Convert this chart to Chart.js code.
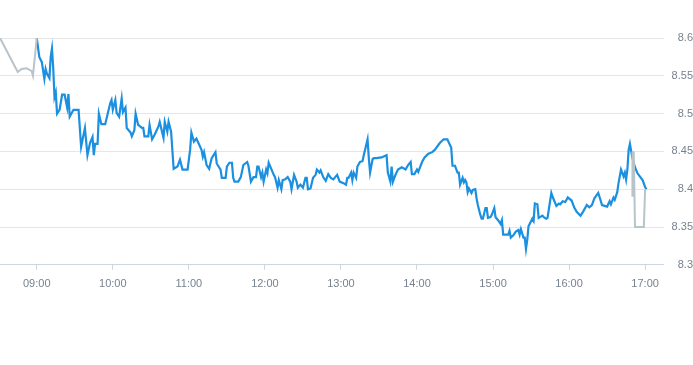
<!DOCTYPE html>
<html>
<head>
<meta charset="utf-8">
<script src="https://cdn.jsdelivr.net/npm/chart.js@4.4.0/dist/chart.umd.min.js"></script>
<style>
  html, body { margin: 0; padding: 0; background: #fff; }
  #wrap { width: 693px; height: 365px; position: relative; }
</style>
</head>
<body>
<div id="wrap"><canvas id="myChart"></canvas></div>
<script>
// before the session opens (grey)
var preTimes = ['08:31', '08:45', '08:48', '08:52', '08:56', '08:57', '09:00'];
var preValues = [8.600, 8.555, 8.559, 8.560, 8.556, 8.550, 8.600];

// trading session (blue)
var mainTimes = [
    '09:00', '09:02', '09:04', '09:06', '09:07', '09:08', '09:10', '09:11', '09:12', '09:13',
    '09:14', '09:15', '09:16', '09:18', '09:20', '09:22', '09:24', '09:25', '09:26', '09:29',
    '09:33', '09:35', '09:38', '09:40', '09:42', '09:44', '09:45', '09:46', '09:48', '09:49',
    '09:51', '09:54', '09:58', '09:59', '10:00', '10:02', '10:03', '10:05', '10:07', '10:08',
    '10:10', '10:11', '10:14', '10:15', '10:17', '10:18', '10:20', '10:23', '10:24', '10:25',
    '10:28', '10:29', '10:31', '10:33', '10:36', '10:37', '10:40', '10:41', '10:43', '10:44',
    '10:46', '10:48', '10:51', '10:53', '10:55', '10:59', '11:01', '11:02', '11:04', '11:06',
    '11:07', '11:10', '11:11', '11:12', '11:14', '11:16', '11:18', '11:21', '11:22', '11:25',
    '11:26', '11:29', '11:30', '11:32', '11:34', '11:35', '11:36', '11:39', '11:41', '11:43',
    '11:46', '11:47', '11:49', '11:51', '11:53', '11:54', '11:55', '11:57', '11:58', '11:59',
    '12:01', '12:02', '12:03', '12:06', '12:07', '12:08', '12:10', '12:11', '12:13', '12:14',
    '12:16', '12:18', '12:20', '12:21', '12:23', '12:25', '12:26', '12:28', '12:30', '12:32',
    '12:33', '12:34', '12:36', '12:38', '12:40', '12:41', '12:43', '12:44', '12:46', '12:48',
    '12:50', '12:52', '12:54', '12:57', '12:59', '13:02', '13:04', '13:05', '13:06', '13:08',
    '13:09', '13:10', '13:12', '13:13', '13:15', '13:17', '13:18', '13:19', '13:21', '13:22',
    '13:23', '13:25', '13:26', '13:28', '13:32', '13:36', '13:37', '13:39', '13:40', '13:41',
    '13:43', '13:45', '13:48', '13:51', '13:53', '13:55', '13:56', '13:58', '14:00', '14:01',
    '14:04', '14:06', '14:09', '14:12', '14:14', '14:18', '14:21', '14:24', '14:25', '14:27',
    '14:28', '14:30', '14:32', '14:33', '14:34', '14:36', '14:37', '14:38', '14:39', '14:40',
    '14:41', '14:43', '14:44', '14:46', '14:47', '14:48', '14:50', '14:51', '14:52', '14:54',
    '14:55', '14:56', '14:58', '14:59', '15:01', '15:02', '15:04', '15:06', '15:07', '15:08',
    '15:11', '15:12', '15:13', '15:14', '15:16', '15:18', '15:20', '15:21', '15:22', '15:24',
    '15:25', '15:26', '15:27', '15:28', '15:31', '15:32', '15:33', '15:35', '15:36', '15:39',
    '15:40', '15:42', '15:43', '15:46', '15:47', '15:50', '15:52', '15:53', '15:55', '15:57',
    '15:59', '16:02', '16:04', '16:06', '16:09', '16:11', '16:14', '16:16', '16:18', '16:20',
    '16:23', '16:24', '16:26', '16:28', '16:30', '16:32', '16:33', '16:35', '16:36', '16:38',
    '16:39', '16:41', '16:43', '16:44', '16:45', '16:46', '16:47', '16:48', '16:50', '16:52',
    '16:54', '16:58', '17:00', '17:01'
];
var mainValues = [
    8.600, 8.575, 8.568, 8.546, 8.559, 8.553, 8.547, 8.575, 8.586, 8.560,
    8.522, 8.528, 8.500, 8.505, 8.525, 8.525, 8.508, 8.526, 8.496, 8.505,
    8.505, 8.456, 8.481, 8.445, 8.461, 8.469, 8.445, 8.460, 8.460, 8.500,
    8.486, 8.486, 8.514, 8.518, 8.505, 8.518, 8.501, 8.496, 8.520, 8.502,
    8.508, 8.481, 8.475, 8.470, 8.478, 8.500, 8.485, 8.481, 8.481, 8.470,
    8.470, 8.485, 8.466, 8.472, 8.483, 8.489, 8.468, 8.489, 8.476, 8.489,
    8.476, 8.427, 8.430, 8.439, 8.426, 8.426, 8.452, 8.475, 8.463, 8.467,
    8.463, 8.452, 8.443, 8.449, 8.432, 8.427, 8.441, 8.449, 8.434, 8.426,
    8.415, 8.415, 8.430, 8.435, 8.435, 8.415, 8.410, 8.410, 8.416, 8.432,
    8.436, 8.431, 8.410, 8.416, 8.416, 8.430, 8.430, 8.416, 8.422, 8.410,
    8.426, 8.421, 8.435, 8.423, 8.419, 8.416, 8.402, 8.412, 8.400, 8.412,
    8.413, 8.416, 8.410, 8.400, 8.419, 8.410, 8.402, 8.406, 8.402, 8.415,
    8.415, 8.400, 8.401, 8.415, 8.419, 8.426, 8.422, 8.425, 8.416, 8.411,
    8.420, 8.415, 8.413, 8.419, 8.410, 8.408, 8.406, 8.415, 8.415, 8.422,
    8.412, 8.422, 8.415, 8.430, 8.436, 8.437, 8.445, 8.452, 8.466, 8.441,
    8.422, 8.440, 8.441, 8.441, 8.442, 8.445, 8.422, 8.410, 8.430, 8.410,
    8.419, 8.426, 8.429, 8.426, 8.432, 8.436, 8.420, 8.420, 8.426, 8.423,
    8.436, 8.442, 8.447, 8.449, 8.452, 8.461, 8.466, 8.466, 8.462, 8.455,
    8.431, 8.431, 8.422, 8.422, 8.406, 8.415, 8.409, 8.412, 8.409, 8.396,
    8.401, 8.395, 8.399, 8.400, 8.388, 8.379, 8.366, 8.361, 8.361, 8.375,
    8.375, 8.362, 8.363, 8.366, 8.375, 8.363, 8.359, 8.354, 8.359, 8.340,
    8.340, 8.340, 8.345, 8.336, 8.339, 8.344, 8.346, 8.340, 8.347, 8.336,
    8.336, 8.321, 8.333, 8.351, 8.361, 8.358, 8.381, 8.380, 8.362, 8.365,
    8.363, 8.361, 8.362, 8.395, 8.390, 8.378, 8.381, 8.380, 8.384, 8.383,
    8.389, 8.385, 8.376, 8.370, 8.365, 8.370, 8.379, 8.376, 8.379, 8.388,
    8.395, 8.390, 8.379, 8.378, 8.377, 8.384, 8.380, 8.389, 8.386, 8.396,
    8.408, 8.426, 8.417, 8.422, 8.413, 8.426, 8.452, 8.460, 8.441, 8.429,
    8.421, 8.412, 8.403, 8.400
];

// after close (grey)
var postTimes = ['16:50', '16:50', '16:51', '16:52', '16:59', '17:00'];
var postValues = [8.450, 8.390, 8.450, 8.350, 8.350, 8.400];

var hourTicks = ['09:00', '10:00', '11:00', '12:00', '13:00', '14:00', '15:00', '16:00', '17:00'];
var priceTicks = [8.3, 8.35, 8.4, 8.45, 8.5, 8.55, 8.6];
var axisStart = '08:31';
var axisEnd = '17:14.5';

function toMin(t) {
    var p = t.split(':');
    return parseInt(p[0], 10) * 60 + parseFloat(p[1]);
}
function toLabel(m) {
    var h = Math.floor(m / 60), mm = Math.round(m % 60);
    return (h < 10 ? '0' : '') + h + ':' + (mm < 10 ? '0' : '') + mm;
}
function points(times, values) {
    return times.map(function (t, i) { return { x: toMin(t), y: values[i] }; });
}

var grey = '#b9c3ca';
var blue = '#1b8fe0';
var tickColor = '#77828e';

Chart.defaults.font.family = '"Liberation Sans", Arial, sans-serif';
Chart.defaults.font.size = 11;

var config = {
    type: 'line',
    data: {
        datasets: [{
            data: points(mainTimes, mainValues),
            borderColor: blue,
            borderWidth: 2.2,
            pointRadius: 0,
            tension: 0,
            order: 2
        }, {
            data: points(preTimes, preValues),
            borderColor: grey,
            borderWidth: 2,
            pointRadius: 0,
            tension: 0,
            order: 1
        }, {
            data: points(postTimes, postValues),
            borderColor: grey,
            borderWidth: 2,
            pointRadius: 0,
            tension: 0,
            order: 1
        }]
    },
    options: {
        responsive: true,
        maintainAspectRatio: false,
        animation: false,
        layout: { padding: { top: 38, bottom: 66, left: 0, right: 0 } },
        plugins: { legend: { display: false }, tooltip: { enabled: false } },
        scales: {
            x: {
                type: 'linear',
                min: toMin(axisStart),
                max: toMin(axisEnd),
                afterBuildTicks: function (scale) {
                    scale.ticks = hourTicks.map(function (t) { return { value: toMin(t) }; });
                },
                grid: { drawOnChartArea: false, drawTicks: true, tickLength: 5, color: '#ccd6e0' },
                border: { color: '#ccd6e0' },
                ticks: {
                    color: tickColor,
                    padding: 8,
                    maxRotation: 0,
                    autoSkip: false,
                    callback: function (v) { return toLabel(v); }
                }
            },
            y: {
                position: 'right',
                min: 8.3,
                max: 8.6,
                afterBuildTicks: function (scale) {
                    scale.ticks = priceTicks.map(function (v) { return { value: v }; });
                },
                afterFit: function (scale) { scale.width = 29.5; },
                grid: { color: '#e6e6e6', drawTicks: false },
                border: { display: false },
                ticks: {
                    color: tickColor,
                    crossAlign: 'far',
                    padding: 7,
                    callback: function (v) { return String(Math.round(v * 100) / 100); }
                }
            }
        }
    }
};

var myChart = new Chart(document.getElementById('myChart'), config);
</script>
</body>
</html>
